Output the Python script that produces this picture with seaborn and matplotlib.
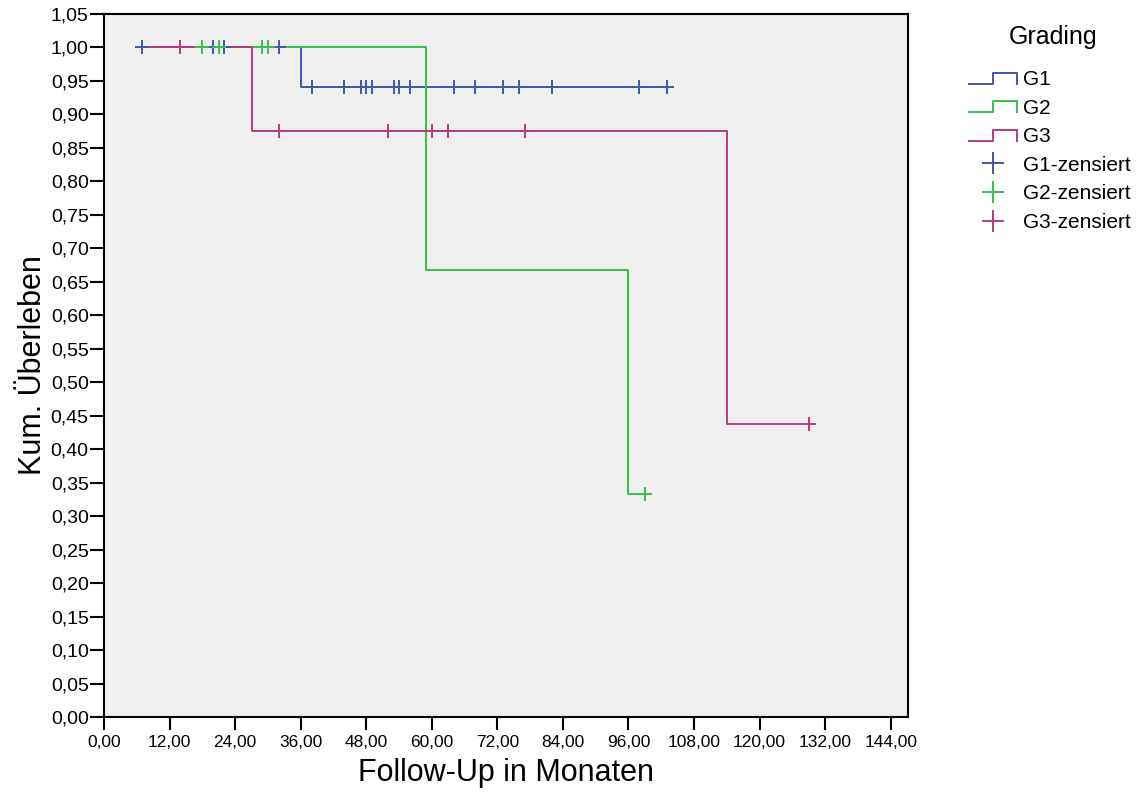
import numpy as np
import pandas as pd
import seaborn as sns
import matplotlib.pyplot as plt
from matplotlib.lines import Line2D
from matplotlib.legend_handler import HandlerBase

# Kaplan-Meier Kurven
groups = ["G1", "G2", "G3"]
g1_events = [36.0]
g1_surv = [1.0, 0.941]
g1_cens = [7, 20, 22, 32, 38, 44, 47, 48, 49, 53, 54, 56, 64, 68, 73, 76, 82, 98, 103]
g2_events = [59.0, 96.0]
g2_surv = [1.0, 0.667, 0.333]
g2_cens = [18, 21, 29, 30, 99]
g3_events = [27.0, 114.0]
g3_surv = [1.0, 0.875, 0.4375]
g3_cens = [14, 32, 52, 60, 63, 77, 129]

x_ticks = np.arange(0, 145, 12)
y_ticks = np.arange(0, 1.051, 0.05)

colors = {"G1": "#3f58ae", "G2": "#38c04c", "G3": "#b63b80"}

events = {"G1": g1_events, "G2": g2_events, "G3": g3_events}
surv = {"G1": g1_surv, "G2": g2_surv, "G3": g3_surv}
cens = {"G1": g1_cens, "G2": g2_cens, "G3": g3_cens}

t_start = min(min(c) for c in cens.values())

line_rows = []
cens_rows = []
for g in groups:
    ev = events[g]
    sv = surv[g]
    t_end = max(max(cens[g]), max(ev))
    ts = [t_start] + ev + [t_end]
    ss = sv + [sv[-1]]
    for t, s in zip(ts, ss):
        line_rows.append({"t": t, "s": s, "group": g})
    for c in cens[g]:
        k = int(np.sum(np.array(ev) <= c))
        cens_rows.append({"t": c, "s": sv[k], "group": g})
lines_df = pd.DataFrame(line_rows)
cens_df = pd.DataFrame(cens_rows)

plt.rcParams["font.family"] = ["Liberation Sans", "DejaVu Sans"]

fig = plt.figure(figsize=(11.43, 7.99), dpi=100)
ax = fig.add_axes([0.091, 0.1026, 0.7035, 0.88])
ax.set_facecolor("#efefef")

sns.lineplot(data=lines_df, x="t", y="s", hue="group", palette=colors,
             estimator=None, sort=False, drawstyle="steps-post",
             linewidth=1.4, legend=False, ax=ax)
for g in groups:
    sub = cens_df[cens_df.group == g]
    ax.plot(sub.t, sub.s, ls="none", marker="+", markersize=10,
            markeredgewidth=1.4, color=colors[g], zorder=3)

ax.set_xlim(0, 147.2)
ax.set_ylim(0, 1.05)
ax.set_xticks(x_ticks)
ax.set_xticklabels([f"{v:.2f}".replace(".", ",") for v in x_ticks], fontsize=12.5)
ax.set_yticks(y_ticks)
ax.set_yticklabels([f"{v:.2f}".replace(".", ",") for v in y_ticks], fontsize=14)
ax.tick_params(axis="x", length=9, width=1.5, pad=4)
ax.tick_params(axis="y", length=10, width=1.5, pad=1)
for sp in ax.spines.values():
    sp.set_linewidth(1.5)
    sp.set_color("black")
ax.set_xlabel("Follow-Up in Monaten", fontsize=22, labelpad=6)
ax.set_ylabel("Kum. Überleben", fontsize=22, labelpad=2)


class StepHandler(HandlerBase):
    def create_artists(self, legend, orig_handle, xdescent, ydescent,
                       width, height, fontsize, trans):
        x0 = -xdescent
        y0 = -ydescent + height * 0.1
        y1 = y0 + height * 0.75
        xm = x0 + width * 0.5
        xs = [x0, xm, xm, x0 + width, x0 + width]
        ys = [y0, y0, y1, y1, y0]
        ln = Line2D(xs, ys, color=orig_handle.get_color(), lw=1.4)
        ln.set_transform(trans)
        return [ln]


handles = []
labels = []
for g in groups:
    handles.append(Line2D([], [], color=colors[g]))
    labels.append(g)
for g in groups:
    handles.append(Line2D([], [], ls="none", marker="+", markersize=16,
                          markeredgewidth=1.4, color=colors[g]))
    labels.append(g + "-zensiert")

hmap = {h: StepHandler() for h in handles[:3]}
fig.text(0.9213, 0.9537, "Grading", fontsize=18, ha="center", va="center")
leg = fig.legend(handles, labels, handler_map=hmap, loc="upper left",
                 bbox_to_anchor=(0.8478, 0.9124), frameon=False,
                 borderpad=0, borderaxespad=0,
                 fontsize=15, handlelength=2.3, handletextpad=0.3,
                 labelspacing=0.46)

fig.savefig("out.png", dpi=100)
